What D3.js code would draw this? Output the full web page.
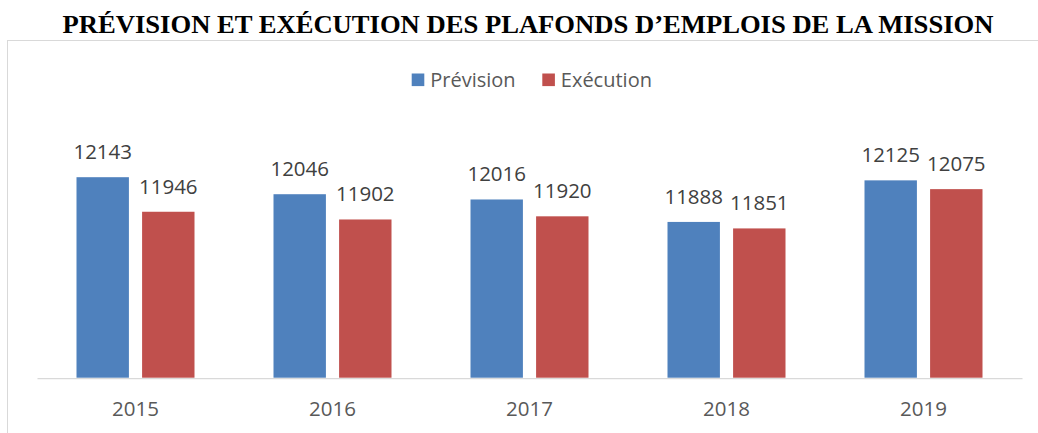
<!DOCTYPE html>
<html><head><meta charset="utf-8">
<script src="https://cdn.jsdelivr.net/npm/d3@7"></script>
<style>
html,body{margin:0;padding:0;background:#fff;}
svg{display:block;}
</style></head>
<body>
<svg id="chart" width="1038" height="433"></svg>
<script>
const titleText = "PRÉVISION ET EXÉCUTION DES PLAFONDS D’EMPLOIS DE LA MISSION";
const years = ["2015","2016","2017","2018","2019"];
const seriesNames = ["Prévision","Exécution"];
const prevision = [12143,12046,12016,11888,12125];
const execution = [11946,11902,11920,11851,12075];
const seriesColors = ["#4F81BD","#C0504D"];
const yDomain = [11000,12200];

const svg = d3.select("#chart");
const W = 1038, H = 433;

// chart frame
svg.append("rect").attr("x",7.5).attr("y",40.5).attr("width",1040).attr("height",420)
  .attr("fill","none").attr("stroke","#d9d9d9").attr("stroke-width",1);

// title
svg.append("text").attr("x",528).attr("y",32.7).attr("text-anchor","middle")
  .attr("font-family","'Liberation Serif','Times New Roman',serif").attr("font-weight","bold")
  .attr("font-size",25).attr("textLength",931).attr("lengthAdjust","spacingAndGlyphs")
  .attr("fill","#000").text(titleText);

const x0 = d3.scaleBand().domain(years).range([37,1022]).paddingInner(79/197).paddingOuter(79/197/2);
const x1 = d3.scaleBand().domain(seriesNames).range([0,x0.bandwidth()]).paddingInner(0.201);
const y = d3.scaleLinear().domain(yDomain).range([377.7,167.2]);

const data = years.map((yr,i)=>({year:yr, values:[{s:seriesNames[0],v:prevision[i]},{s:seriesNames[1],v:execution[i]}]}));

const groups = svg.append("g").selectAll("g").data(data).join("g")
  .attr("transform",d=>`translate(${x0(d.year)},0)`);

groups.selectAll("rect").data(d=>d.values).join("rect")
  .attr("x",d=>x1(d.s)).attr("width",x1.bandwidth())
  .attr("y",d=>y(d.v)).attr("height",d=>y(yDomain[0])-y(d.v))
  .attr("fill",(d,i)=>seriesColors[i]);

groups.selectAll("text").data(d=>d.values).join("text")
  .attr("x",d=>x1(d.s)+x1.bandwidth()/2).attr("y",d=>y(d.v)-18)
  .attr("text-anchor","middle").attr("font-family","'Open Sans',sans-serif")
  .attr("font-size",20.5).attr("fill","#404040").text(d=>d.v);

// x axis
const xAxis = svg.append("g").attr("transform",`translate(0,${378.2})`)
  .call(d3.axisBottom(x0).tickSize(0).tickSizeOuter(0));
xAxis.select(".domain").attr("stroke","#d9d9d9").attr("stroke-width",1.2);
xAxis.selectAll(".tick text").attr("y",38).attr("dy",0)
  .attr("font-family","'Open Sans',sans-serif").attr("font-size",20.5).attr("fill","#595959");

// legend
const legendX = [411.7, 542.3];
const leg = svg.append("g").selectAll("g").data(seriesNames).join("g")
  .attr("transform",(d,i)=>`translate(${legendX[i]},0)`);
leg.append("rect").attr("x",0).attr("y",73.5).attr("width",12.6).attr("height",12.6)
  .attr("fill",(d,i)=>seriesColors[i]);
leg.append("text").attr("x",18.5).attr("y",86.7)
  .attr("font-family","'Open Sans',sans-serif").attr("font-size",20).attr("fill","#595959").text(d=>d);
</script>
</body></html>
